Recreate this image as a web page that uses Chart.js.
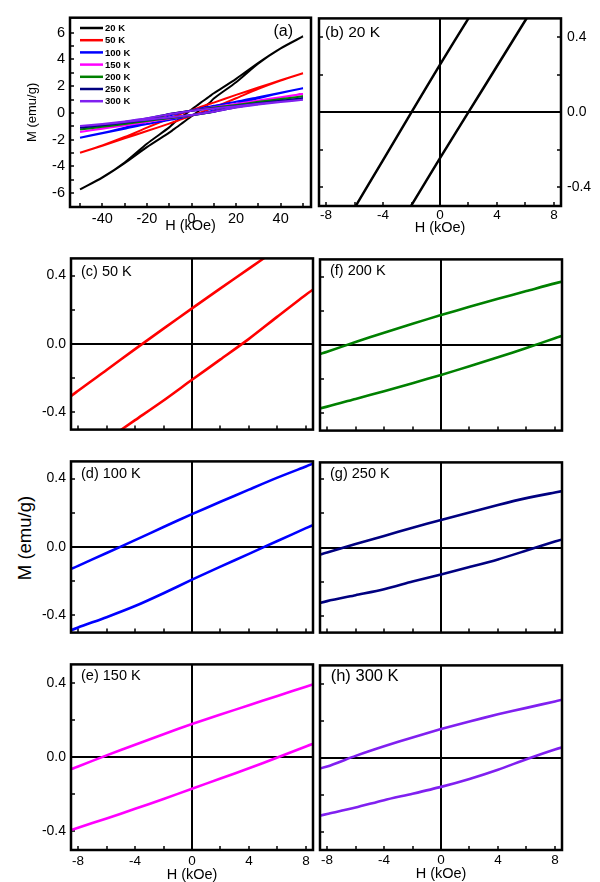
<!DOCTYPE html>
<html><head><meta charset="utf-8">
<script src="https://cdn.jsdelivr.net/npm/chart.js@4.4.1/dist/chart.umd.min.js"></script>
<style>
html,body{margin:0;padding:0;background:#fff;}
body{width:600px;height:882px;position:relative;overflow:hidden;font-family:"Liberation Sans",Arial,sans-serif;}
canvas{position:absolute;}
#mlabel{position:absolute;left:25px;top:538px;transform:translate(-50%,-50%) rotate(-90deg);font-size:18.5px;white-space:nowrap;color:#000;}
</style></head><body>
<div id="mlabel">M (emu/g)</div>
<script>
// ---------------- data ----------------
const FIELD = [-50,-40,-30,-20,-10,-8,-6,-4,-2,0,2,4,6,8,10,20,30,40,50];   // H (kOe)
const TEMPS = ['20 K','50 K','100 K','150 K','200 K','250 K','300 K'];

// descending-field (upper) branch, M (emu/g) at each FIELD value
const UP_20  = [-5.72,-4.82,-3.70,-2.30,-1.08,-0.76,-0.51,-0.255,0.0,0.254,0.50,0.75,0.99,1.23,1.47,2.55,3.75,4.83,5.72];
const UP_50  = [-2.97,-2.42,-1.80,-1.10,-0.40,-0.273,-0.152,-0.03,0.09,0.208,0.325,0.44,0.555,0.665,0.77,1.35,1.90,2.45,2.97];
const UP_100 = [-1.85,-1.49,-1.10,-0.65,-0.185,-0.11,-0.035,0.04,0.117,0.192,0.264,0.335,0.405,0.47,0.535,0.83,1.18,1.52,1.85];
const UP_150 = [-1.42,-1.15,-0.86,-0.55,-0.11,-0.05,0.01,0.067,0.124,0.179,0.23,0.28,0.33,0.38,0.43,0.67,0.93,1.18,1.42];
const UP_200 = [-1.24,-1.02,-0.78,-0.50,-0.095,-0.04,0.018,0.072,0.124,0.175,0.223,0.27,0.315,0.36,0.40,0.60,0.83,1.04,1.24];
const UP_250 = [-1.10,-0.90,-0.67,-0.42,-0.08,-0.03,0.02,0.068,0.116,0.162,0.206,0.25,0.29,0.323,0.355,0.52,0.72,0.92,1.10];
const UP_300 = [-0.98,-0.82,-0.63,-0.40,-0.09,-0.048,0.01,0.062,0.11,0.155,0.196,0.235,0.27,0.305,0.34,0.50,0.68,0.84,0.98];
// ascending-field (lower) branch
const LO_20  = [-5.72,-4.83,-3.75,-2.55,-1.47,-1.23,-0.99,-0.745,-0.495,-0.245,0.0,0.245,0.49,0.74,1.08,2.30,3.70,4.82,5.72];
const LO_50  = [-2.97,-2.45,-1.90,-1.35,-0.80,-0.68,-0.56,-0.445,-0.33,-0.209,-0.09,0.03,0.16,0.288,0.41,1.10,1.80,2.42,2.97];
const LO_100 = [-1.85,-1.52,-1.18,-0.83,-0.535,-0.47,-0.41,-0.345,-0.27,-0.191,-0.115,-0.04,0.035,0.11,0.185,0.65,1.10,1.49,1.85];
const LO_150 = [-1.42,-1.18,-0.93,-0.67,-0.43,-0.38,-0.33,-0.278,-0.225,-0.17,-0.115,-0.06,-0.002,0.058,0.115,0.55,0.86,1.15,1.42];
const LO_200 = [-1.24,-1.04,-0.83,-0.60,-0.40,-0.36,-0.315,-0.27,-0.223,-0.175,-0.124,-0.072,-0.018,0.04,0.095,0.50,0.78,1.02,1.24];
const LO_250 = [-1.10,-0.92,-0.72,-0.52,-0.355,-0.315,-0.28,-0.245,-0.20,-0.158,-0.115,-0.07,-0.018,0.035,0.085,0.42,0.67,0.90,1.10];
const LO_300 = [-0.98,-0.84,-0.68,-0.50,-0.34,-0.305,-0.27,-0.23,-0.195,-0.158,-0.115,-0.065,-0.008,0.045,0.09,0.40,0.63,0.82,0.98];

const BRANCH_UP = [UP_20,UP_50,UP_100,UP_150,UP_200,UP_250,UP_300];
const BRANCH_LO = [LO_20,LO_50,LO_100,LO_150,LO_200,LO_250,LO_300];

// tick values / labels
const FULL_X_TICKS  = [-50,-40,-30,-20,-10,0,10,20,30,40,50];
const FULL_X_LABELS = [-40,-20,0,20,40];
const FULL_Y_TICKS  = [-6,-5,-4,-3,-2,-1,0,1,2,3,4,5,6];
const FULL_Y_LABELS = [-6,-4,-2,0,2,4,6];
const ZOOM_X_TICKS  = [-8,-6,-4,-2,0,2,4,6,8];
const ZOOM_X_LABELS = [-8,-4,0,4,8];
const ZOOM_Y_TICKS  = [-0.4,-0.2,0,0.2,0.4];
const ZOOM_Y_LABELS = [-0.4,0,0.4];
const PANEL_TEXT = ['(a)','(b) 20 K','(c) 50 K','(d) 100 K','(e) 150 K','(f) 200 K','(g) 250 K','(h) 300 K'];
const AXIS_TITLE_H = 'H (kOe)';
const AXIS_TITLE_M = 'M (emu/g)';

// ---------------- styles ----------------
const COLORS = ['#000000','#ff0000','#0000ff','#ff00ff','#008000','#000080','#8020f0'];
const FONT = '"Liberation Sans", Arial, sans-serif';

function loopPoints(ti){
  const pts = [];
  for (let i = FIELD.length-1; i >= 0; i--) pts.push({x: FIELD[i], y: BRANCH_UP[ti][i]});
  for (let i = 0; i < FIELD.length; i++) pts.push({x: FIELD[i], y: BRANCH_LO[ti][i]});
  return pts;
}

function isIn(list, v){ return list.some(l => Math.abs(l - v) < 1e-9); }

function axisCfg(o){
  const vertical = (o.pos === 'left' || o.pos === 'right');
  return {
    type: 'linear', position: o.pos, min: o.min, max: o.max,
    afterBuildTicks: s => { s.ticks = o.ticks.map(v => ({value: v})); },
    afterFit: s => { if (vertical) s.width = o.size; else s.height = o.size; },
    ticks: {
      autoSkip: false, maxRotation: 0, minRotation: 0, padding: o.pad || 0, color: '#000',
      font: {family: FONT, size: o.fontSize || 13},
      callback: v => isIn(o.labels || [], v) ? o.fmt(v) : ''
    },
    grid: {
      drawOnChartArea: true, drawTicks: true, tickLength: -4, tickWidth: 1.5, tickColor: '#000',
      lineWidth: 2,
      color: ctx => (o.zero && ctx.tick && Math.abs(ctx.tick.value) < 1e-9) ? '#000' : 'rgba(0,0,0,0)'
    },
    border: {display: false},
    title: o.title ? {display: true, text: o.title, color: '#000',
      font: {family: FONT, size: o.titleSize}, padding: o.titlePad || {top: 0, bottom: 0}} : {display: false}
  };
}

function decoPlugin(p){
  return {
    id: 'deco',
    afterDatasetsDraw(chart){
      const ctx = chart.ctx, a = chart.chartArea;
      ctx.save();
      ctx.strokeStyle = '#000'; ctx.lineWidth = 2.5;
      ctx.strokeRect(a.left, a.top, a.right - a.left, a.bottom - a.top);
      ctx.fillStyle = '#000';
      ctx.font = p.labelSize + 'px ' + FONT;
      ctx.textBaseline = 'middle';
      if (p.labelRight) { ctx.textAlign = 'right'; ctx.fillText(p.text, a.right - p.lx, a.top + p.ly); }
      else { ctx.textAlign = 'left'; ctx.fillText(p.text, a.left + p.lx, a.top + p.ly); }
      if (p.legend) {
        ctx.font = 'bold 9.5px ' + FONT;
        ctx.textAlign = 'left';
        chart.data.datasets.forEach((ds, i) => {
          const y = a.top + 10.3 + i * 12.2;
          ctx.strokeStyle = ds.borderColor; ctx.lineWidth = 2.5;
          ctx.beginPath(); ctx.moveTo(a.left + 10, y); ctx.lineTo(a.left + 33, y); ctx.stroke();
          ctx.fillStyle = '#000';
          ctx.fillText(ds.label, a.left + 35, y + 0.5);
        });
      }
      ctx.restore();
    }
  };
}

function makeChart(p){
  const c = document.createElement('canvas');
  c.width = p.w; c.height = p.h;
  c.style.left = p.x + 'px'; c.style.top = p.y + 'px';
  c.style.width = p.w + 'px'; c.style.height = p.h + 'px';
  document.body.appendChild(c);
  const datasets = p.series.map(ti => ({
    label: TEMPS[ti], data: loopPoints(ti), showLine: true, pointRadius: 0,
    borderColor: COLORS[ti], backgroundColor: COLORS[ti], borderWidth: p.lw, fill: false,
    tension: 0.25, order: 10 - ti
  }));
  new Chart(c, {
    type: 'scatter',
    data: {datasets},
    options: {
      responsive: false, animation: false, events: [],
      layout: {padding: p.padding},
      scales: p.scales,
      plugins: {legend: {display: false}, tooltip: {enabled: false}}
    },
    plugins: [decoPlugin(p)]
  });
}

const fmtInt = v => String(Math.round(v));
const fmt1 = v => (Math.abs(v) < 1e-9 ? 0 : v).toFixed(1);

// ---- panel (a): all temperatures, full field range ----
makeChart({
  x: 0, y: 0, w: 315, h: 235, lw: 2, series: [0,1,2,3,4,5,6],
  padding: {top: 8, right: 4, left: 0, bottom: 0},
  text: PANEL_TEXT[0], labelSize: 16, labelRight: true, lx: 18, ly: 14, legend: true,
  scales: {
    x: axisCfg({pos: 'bottom', min: -54.5, max: 53.6, ticks: FULL_X_TICKS, labels: FULL_X_LABELS, fmt: fmtInt,
      size: 28, pad: 7, fontSize: 14.5, title: AXIS_TITLE_H, titleSize: 14.5}),
    y: axisCfg({pos: 'left', min: -7.03, max: 7.12, ticks: FULL_Y_TICKS, labels: FULL_Y_LABELS, fmt: fmtInt,
      size: 70, pad: 9, fontSize: 14.5, title: AXIS_TITLE_M, titleSize: 13, titlePad: {top: 25, bottom: 0}})
  }
});

// ---- panel (b): 20 K, y axis on the right ----
makeChart({
  x: 309, y: 0, w: 292, h: 237, lw: 2.5, series: [0],
  padding: {top: 9, right: 0, left: 10, bottom: 0},
  text: PANEL_TEXT[1], labelSize: 15.5, lx: 6, ly: 14,
  scales: {
    x: axisCfg({pos: 'bottom', min: -8.5, max: 8.5, ticks: ZOOM_X_TICKS, labels: ZOOM_X_LABELS, fmt: fmtInt,
      size: 31, pad: 5, fontSize: 13.5, zero: true, title: AXIS_TITLE_H, titleSize: 14.5}),
    y: axisCfg({pos: 'right', min: -0.5, max: 0.5, ticks: ZOOM_Y_TICKS, labels: ZOOM_Y_LABELS, fmt: fmt1,
      size: 40, pad: 10, fontSize: 14, zero: true}),
    yL: axisCfg({pos: 'left', min: -0.5, max: 0.5, ticks: ZOOM_Y_TICKS, labels: [], fmt: fmt1, size: 0})
  }
});

// ---- zoomed panels (c)-(h) ----
const ZOOM_PANELS = [
  // left column: c, d, e
  {ti: 1, text: PANEL_TEXT[2], l: 71, t: 247, r: 313, b: 443, left: true,  xl: false, ly: 14, ls: 14.5},
  {ti: 2, text: PANEL_TEXT[3], l: 71, t: 450, r: 313, b: 646, left: true,  xl: false, ly: 13, ls: 14.5},
  {ti: 3, text: PANEL_TEXT[4], l: 71, t: 653, r: 313, b: 850, left: true,  xl: true,  ly: 12, ls: 14.5, xs: 34, xp: 7},
  // right column: f, g, h
  {ti: 4, text: PANEL_TEXT[5], l: 320, t: 248, r: 562, b: 444, left: false, xl: false, ly: 12, ls: 14.5},
  {ti: 5, text: PANEL_TEXT[6], l: 320, t: 451, r: 562, b: 646, left: false, xl: false, ly: 12, ls: 14.5},
  {ti: 6, text: PANEL_TEXT[7], l: 320, t: 654, r: 562, b: 850, left: false, xl: true,  ly: 11, ls: 16.5, xs: 33, xp: 6}
];

ZOOM_PANELS.forEach(zp => {
  const leftSpace = zp.left ? 50 : 10;
  const axisW = zp.left ? 50 : 0;
  const padL = leftSpace - axisW;
  const bottomSpace = zp.xl ? zp.xs : 4;
  const x = zp.l - leftSpace, y = zp.t - 6;
  const w = (zp.r + 6) - x, h = (zp.b + bottomSpace) - y;
  makeChart({
    x, y, w, h, lw: 2.6, series: [zp.ti],
    padding: {top: 6, right: 6, left: padL, bottom: zp.xl ? 0 : 4},
    text: zp.text, labelSize: zp.ls, lx: zp.ti === 6 ? 10.7 : 10, ly: zp.ly,
    scales: {
      x: axisCfg({pos: 'bottom', min: -8.5, max: 8.5, ticks: ZOOM_X_TICKS, labels: zp.xl ? ZOOM_X_LABELS : [],
        fmt: fmtInt, size: zp.xl ? zp.xs : 0, pad: zp.xp || 0, fontSize: 13.5, zero: true,
        title: zp.xl ? AXIS_TITLE_H : null, titleSize: 14.5}),
      y: axisCfg({pos: 'left', min: -0.5, max: 0.5, ticks: ZOOM_Y_TICKS, labels: zp.left ? ZOOM_Y_LABELS : [],
        fmt: fmt1, size: axisW, pad: 9, fontSize: 14, zero: true})
    }
  });
});
</script>
</body></html>
